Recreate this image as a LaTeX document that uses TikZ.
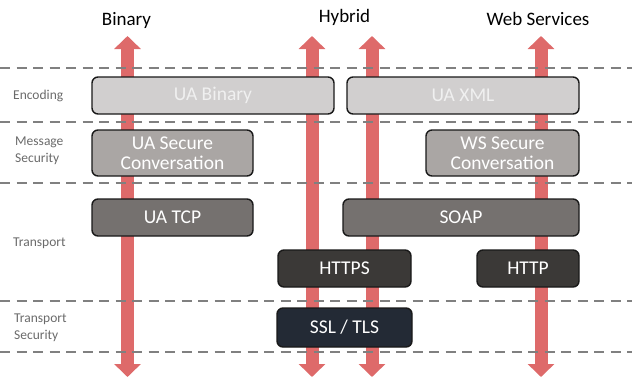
\documentclass[tikz,border=0pt]{standalone}
\usepackage{fontspec}
\setmainfont{Carlito}
\usetikzlibrary{arrows.meta}
\definecolor{arr}{HTML}{DE6A6A}
\definecolor{dash}{HTML}{808080}
\definecolor{lbl}{HTML}{6A6A6A}
\definecolor{encf}{HTML}{D1CFCF}
\definecolor{msgf}{HTML}{AAA6A4}
\definecolor{tcpf}{HTML}{75716F}
\definecolor{httpf}{HTML}{3B3937}
\definecolor{sslf}{HTML}{232A35}
\tikzset{
  layerbox/.style={draw=black!90, line width=1.4pt, rounded corners=6pt, inner sep=0pt,
    align=center, text=white, font=\fontsize{19.5}{20}\selectfont},
  biarrow/.style={draw=arr, line width=13pt,
    {Triangle[width=26pt,length=13pt]}-{Triangle[width=26pt,length=13pt]}},
  sepline/.style={draw=dash, line width=1.6pt, dash pattern=on 10pt off 6.5pt},
  sidelabel/.style={anchor=west, align=left, text=lbl, inner sep=0pt,
    font=\fontsize{13.5}{17}\selectfont},
  header/.style={text=black, inner sep=0pt, anchor=base, font=\fontsize{19}{20}\selectfont}
}
\begin{document}
\begin{tikzpicture}[x=1pt,y=-1pt]
\useasboundingbox (0,0) rectangle (632,381);
% arrows
\coordinate (bint) at (127.5,36);  \coordinate (binb) at (127.5,377);
\coordinate (hy1t) at (312,36);  \coordinate (hy1b) at (312,377);
\coordinate (hy2t) at (372,36);  \coordinate (hy2b) at (372,377);
\coordinate (wst)  at (541,36);  \coordinate (wsb)  at (541,377);
\draw[biarrow] (bint) -- (binb);
\draw[biarrow] (hy1t) -- (hy1b);
\draw[biarrow] (hy2t) -- (hy2b);
\draw[biarrow] (wst) -- (wsb);
% separators
\foreach \yy/\nm in {68/s1,122/s2,183/s3,300.7/s4,351.7/s5}{
  \coordinate (\nm l) at (0,\yy);
  \coordinate (\nm r) at (632,\yy);
  \draw[sepline] (\nm l) -- (\nm r);
}
% headers
\node[header] (hbin) at (126.5,25) {Binary};
\node[header] (hhyb) at (344.5,22.5) {Hybrid};
\node[header] (hws) at (538,25) {Web Services};
% side labels
\node[sidelabel] (lenc) at (13,96) {Encoding};
\node[sidelabel] (lmsg) at (15,150.5) {Message\\Security};
\node[sidelabel] (ltr) at (13,243) {Transport};
\node[sidelabel] (lts) at (14,327.5) {Transport\\Security};
% boxes
\node[layerbox, fill=encf, text=white!94!black, minimum width=242pt, minimum height=37pt] (uabin) at (213,95.5) {UA Binary};
\node[layerbox, fill=encf, text=white!94!black, minimum width=232pt, minimum height=37pt] (uaxml) at (463,95.5) {UA XML};
\node[layerbox, fill=msgf, minimum width=161pt, minimum height=46pt] (uasc) at (172.5,153) {UA Secure\\Conversation};
\node[layerbox, fill=msgf, minimum width=153pt, minimum height=46pt] (wssc) at (502.5,153) {WS Secure\\Conversation};
\node[layerbox, fill=tcpf, minimum width=161pt, minimum height=37pt] (uatcp) at (172.5,217.5) {UA TCP};
\node[layerbox, fill=tcpf, minimum width=236pt, minimum height=37pt] (soap) at (461,217.5) {SOAP};
\node[layerbox, fill=httpf, minimum width=133pt, minimum height=37pt] (https) at (344.5,268.5) {HTTPS};
\node[layerbox, fill=httpf, minimum width=102pt, minimum height=37pt] (http) at (528,268.5) {HTTP};
\node[layerbox, fill=sslf, minimum width=135pt, minimum height=39pt] (ssl) at (344.5,327.5) {SSL / TLS};
\end{tikzpicture}
\end{document}
